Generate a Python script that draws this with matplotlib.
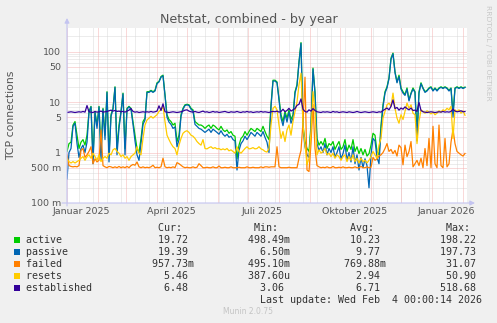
import numpy as np
import pandas as pd
import matplotlib
matplotlib.use('Agg')
import matplotlib.pyplot as plt
from matplotlib.patches import Rectangle

# one sample every second day, starting at the left edge of the window
start = pd.Timestamp('2025-01-01 12:00')
days = np.arange(0, 400, 2)

active = [
    1.05, 1.5, 1.6, 3.5, 4.1, 2.2, 1.2, 1.6, 1.8, 1.4,
    2.2, 6.5, 8.2, 0.8, 6.5, 3.5, 8.2, 1.0, 7.5, 2.2,
    16, 0.9, 5.6, 7.5, 20, 1.2, 3.5, 6.5, 15, 1.2,
    7.5, 8.2, 7.5, 4.1, 2.2, 1.2, 1.0, 1.9, 4.1, 4.8,
    16, 16, 17, 16, 17, 24, 25.5, 32, 34, 14,
    5.6, 4.5, 4.1, 3.5, 3.8, 1.65, 2.2, 5.6, 7.5, 8.8,
    9.0, 8.8, 7.5, 7.0, 4.1, 3.8, 3.5, 3.5, 3.3, 3.0,
    3.3, 3.5, 3.0, 3.5, 3.3, 3.0, 2.8, 3.3, 2.8, 2.6,
    2.8, 2.4, 2.6, 2.2, 2.1, 0.75, 1.4, 1.9, 2.1, 2.6,
    2.2, 2.6, 3.0, 2.8, 2.6, 3.0, 2.8, 2.6, 3.3, 2.6,
    2.1, 1.8, 8.8, 27, 27, 25, 12, 5.6, 4.1, 6.5,
    4.8, 7.0, 4.5, 5.6, 16, 22, 63, 150, 3.5, 1.65,
    1.2, 1.05, 3.5, 47, 16, 1.9, 1.4, 1.65, 1.4, 1.9,
    1.2, 1.5, 1.4, 1.65, 1.15, 1.4, 1.65, 1.15, 1.3, 1.8,
    1.05, 1.4, 1.15, 1.8, 1.05, 1.3, 0.95, 1.2, 0.9, 1.15,
    0.85, 0.95, 1.4, 2.4, 2.2, 1.05, 0.9, 3.5, 8.8, 16,
    20, 30, 74, 93, 40, 25, 34, 19, 16, 14,
    19, 11, 15, 19, 16, 2.5, 16, 24, 19, 16,
    17, 19, 20, 17, 19, 17, 19, 20, 19, 20,
    19, 17, 19, 6.0, 19, 20, 19, 20, 19, 19.72,
]
passive = [
    0.3, 1.0, 1.2, 3.3, 3.8, 1.5, 0.8, 1.2, 1.4, 1.0,
    1.6, 6.2, 8.0, 0.6, 6.2, 3.0, 8.0, 0.7, 7.2, 1.8,
    15.5, 0.65, 5.2, 7.2, 19.5, 0.9, 3.0, 6.2, 14.5, 0.9,
    7.2, 8.0, 7.2, 3.6, 1.7, 0.9, 0.7, 1.5, 3.6, 4.4,
    15.5, 15.5, 16.5, 15.5, 16.5, 23, 25, 31, 33, 13.5,
    5.0, 4.0, 3.6, 3.0, 3.2, 1.3, 1.8, 5.2, 7.2, 8.5,
    8.8, 8.5, 7.2, 6.6, 3.6, 3.3, 3.0, 2.9, 2.7, 2.5,
    2.7, 2.9, 2.5, 2.9, 2.7, 2.5, 2.3, 2.7, 2.3, 2.1,
    2.3, 2.0, 2.1, 1.8, 1.7, 0.45, 1.1, 1.5, 1.7, 2.1,
    1.8, 2.1, 2.5, 2.3, 2.1, 2.5, 2.3, 2.1, 2.6, 2.0,
    1.6, 1.0, 8.0, 26, 26, 24, 11, 4.8, 3.4, 5.8,
    4.0, 6.4, 3.8, 4.8, 15, 21, 60, 145, 3.0, 1.3,
    0.9, 0.8, 3.0, 45, 15, 1.5, 1.1, 1.3, 1.0, 1.5,
    0.9, 1.2, 1.0, 1.3, 0.8, 1.0, 1.3, 0.75, 0.95, 1.4,
    0.7, 1.0, 0.65, 1.3, 0.6, 0.9, 0.45, 0.8, 0.5, 0.75,
    0.55, 0.2, 0.9, 1.9, 1.7, 0.8, 0.6, 2.8, 8.0, 15,
    19, 29, 70, 90, 38, 24, 32, 18, 15, 13.5,
    18, 10.5, 14.5, 18, 15.5, 1.7, 15, 23, 18.5, 15.5,
    16.5, 18.5, 19.5, 16.5, 18.5, 16.5, 18.5, 19.5, 18.5, 19.5,
    18.5, 16.5, 18.5, 5.0, 18.5, 19.5, 18.5, 19.5, 18.5, 19.39,
]
failed = [
    0.9, 0.55, 0.53, 0.52, 0.53, 0.52, 0.55, 1.1, 1.2, 0.8,
    0.9, 1.05, 1.3, 0.6, 0.75, 0.65, 0.7, 2.8, 0.55, 0.52,
    0.5, 0.53, 0.52, 0.5, 0.52, 0.5, 0.53, 0.5, 0.52, 0.5,
    0.53, 0.5, 0.55, 0.58, 0.56, 0.65, 0.52, 0.5, 0.52, 0.5,
    0.51, 0.5, 0.52, 0.56, 0.5, 0.51, 0.5, 0.52, 0.77, 0.52,
    0.5, 0.51, 0.5, 0.52, 0.5, 0.63, 0.6, 0.56, 0.52, 0.5,
    0.51, 0.5, 0.5, 0.52, 0.5, 0.51, 0.6, 0.55, 0.5, 0.5,
    0.51, 0.5, 0.5, 0.52, 0.5, 0.5, 0.54, 0.5, 0.5, 0.51,
    0.5, 0.5, 0.52, 0.5, 0.5, 0.5, 0.51, 0.5, 0.5, 0.5,
    0.52, 0.5, 0.5, 0.51, 0.5, 0.5, 0.5, 0.52, 0.5, 0.52,
    0.52, 0.51, 0.52, 0.52, 0.52, 1.3, 0.52, 0.5, 0.5, 0.5,
    0.5, 0.51, 0.5, 0.5, 0.5, 0.5, 0.77, 1.1, 4.0, 31,
    0.45, 0.42, 1.5, 9.0, 1.2, 0.55, 0.52, 0.5, 0.51, 0.5,
    0.52, 0.5, 0.5, 0.53, 0.5, 0.5, 0.51, 0.5, 0.52, 0.5,
    0.5, 0.51, 0.5, 0.5, 0.52, 0.5, 0.5, 0.53, 0.5, 0.5,
    0.52, 0.5, 0.51, 0.8, 0.7, 0.75, 0.85, 0.9, 1.0, 1.2,
    1.5, 1.05, 1.15, 0.95, 1.1, 0.85, 1.4, 1.25, 0.57, 1.4,
    0.83, 1.05, 1.65, 0.52, 0.6, 0.7, 0.55, 0.77, 0.5, 1.2,
    0.55, 1.9, 0.5, 3.3, 0.6, 0.5, 3.5, 0.55, 0.5, 1.9,
    0.52, 0.6, 1.6, 2.9, 1.5, 1.05, 0.97, 0.9, 0.85, 0.95773,
]
resets = [
    0.75, 0.66, 0.62, 0.66, 0.62, 0.66, 0.7, 0.77, 0.83, 0.7,
    0.83, 0.9, 0.77, 0.97, 0.83, 0.7, 0.9, 0.66, 0.77, 0.83,
    0.77, 0.97, 0.9, 1.13, 1.2, 1.05, 0.97, 0.83, 0.9, 0.77,
    0.83, 0.7, 0.83, 0.9, 0.97, 1.3, 0.97, 0.9, 1.9, 3.5,
    4.4, 4.8, 5.2, 4.8, 5.2, 5.6, 6.5, 7.0, 8.2, 4.1,
    2.2, 1.8, 1.5, 1.3, 1.2, 0.9, 1.4, 1.9, 2.4, 2.6,
    2.7, 2.5, 2.2, 2.1, 1.9, 1.65, 1.5, 1.4, 1.8, 1.2,
    1.18, 1.25, 1.3, 1.2, 1.25, 1.18, 1.2, 1.13, 1.18, 1.13,
    1.2, 1.08, 1.13, 1.05, 0.97, 1.3, 1.05, 0.97, 1.08, 1.2,
    1.3, 1.18, 1.2, 1.25, 1.18, 1.2, 1.3, 1.18, 1.13, 1.05,
    1.02, 1.2, 3.5, 7.5, 8.2, 7.0, 3.5, 1.9, 2.6, 1.65,
    2.8, 3.5, 2.2, 4.1, 6.5, 10, 22, 37, 3.5, 1.4,
    0.57, 0.77, 2.6, 16, 6.5, 0.9, 1.13, 0.97, 1.05, 1.2,
    0.9, 0.97, 0.83, 0.97, 0.77, 0.9, 0.83, 0.7, 0.83, 0.9,
    0.66, 0.83, 0.7, 0.9, 0.66, 0.77, 0.62, 0.77, 0.66, 0.7,
    0.62, 0.7, 0.83, 1.05, 0.9, 0.77, 1.4, 1.9, 4.8, 6.5,
    8.8, 9.5, 8.2, 15, 7.5, 4.8, 3.8, 5.6, 4.5, 6.5,
    9.5, 7.5, 8.8, 6.0, 5.6, 1.5, 4.1, 7.0, 6.5, 6.0,
    6.7, 6.3, 5.8, 6.3, 5.6, 6.0, 6.7, 6.3, 7.0, 6.7,
    7.5, 7.0, 8.2, 1.9, 7.0, 6.5, 7.0, 6.0, 6.7, 5.46,
]
established = [
    6.2, 6.3, 6.4, 6.3, 6.2, 6.3, 6.4, 6.3, 6.5, 6.3,
    8.5, 6.4, 6.3, 6.2, 6.5, 6.3, 6.4, 6.6, 6.3, 6.4,
    6.5, 6.7, 6.9, 6.6, 6.8, 6.5, 6.6, 6.4, 6.5, 6.3,
    6.6, 6.9, 7.4, 6.5, 6.3, 6.4, 6.2, 6.3, 6.4, 6.3,
    6.4, 6.3, 6.5, 6.3, 6.4, 6.6, 8.4, 6.8, 9.2, 6.4,
    6.3, 6.2, 6.3, 6.4, 6.3, 6.2, 6.3, 6.4, 6.6, 6.9,
    7.0, 6.6, 6.4, 6.3, 6.5, 6.3, 6.2, 6.4, 6.6, 6.3,
    6.4, 6.2, 6.3, 6.5, 6.3, 6.4, 6.2, 6.3, 6.4, 6.5,
    6.3, 6.2, 6.4, 6.3, 6.3, 6.5, 6.3, 6.2, 6.4, 6.3,
    6.5, 6.3, 6.4, 6.2, 6.3, 6.4, 6.3, 6.5, 6.3, 6.4,
    6.3, 6.2, 6.4, 6.5, 6.4, 6.6, 6.3, 6.5, 7.2, 6.4,
    6.8, 7.5, 6.6, 7.0, 7.4, 8.6, 9.0, 11.5, 7.2, 6.5,
    6.3, 7.0, 6.6, 7.4, 6.8, 6.4, 6.3, 6.2, 6.4, 6.3,
    6.4, 6.3, 6.2, 6.5, 6.3, 6.4, 6.2, 6.3, 6.4, 6.3,
    6.2, 6.4, 6.3, 6.2, 6.3, 6.5, 6.3, 6.2, 6.3, 6.4,
    6.3, 6.2, 6.3, 6.4, 6.3, 6.2, 6.4, 6.3, 6.8, 7.2,
    7.6, 7.0, 8.2, 11.0, 7.4, 7.8, 6.9, 7.6, 7.2, 8.0,
    7.4, 7.0, 7.6, 6.8, 6.9, 6.5, 9.8, 6.8, 6.4, 6.3,
    6.2, 6.3, 6.4, 6.3, 6.2, 6.3, 6.4, 6.3, 6.5, 6.3,
    6.4, 6.3, 6.5, 7.2, 6.6, 6.4, 6.5, 6.7, 6.4, 6.48,
]

names = ['active', 'passive', 'failed', 'resets', 'established']
colors = ['#00cc00', '#0066b3', '#ff8000', '#ffcc00', '#330099']
cur = ['19.72 ', '19.39 ', '957.73m', '5.46 ', '6.48 ']
vmin = ['498.49m', '6.50m', '495.10m', '387.60u', '3.06 ']
vavg = ['10.23 ', '9.77 ', '769.88m', '2.94 ', '6.71 ']
vmax = ['198.22 ', '197.73 ', '31.07 ', '50.90 ', '518.68 ']

yticks = [0.1, 0.5, 1, 5, 10, 50, 100]
ylabels = ['100 m', '500 m', '1', '5', '10', '50', '100']
xlabels = ['Januar 2025', 'April 2025', 'Juli 2025', 'Oktober 2025', 'Januar 2026']
xlabel_dates = ['2025-01-16', '2025-04-16', '2025-07-16', '2025-10-16', '2026-01-16']

W, H = 497, 323
fig = plt.figure(figsize=(W / 100, H / 100), dpi=100, facecolor='#f0f0f0')
ax = fig.add_axes([67 / W, 1 - 203 / H, 400 / W, 175 / H])
ax.set_facecolor('white')
for s in ax.spines.values():
    s.set_visible(False)

ax.set_yscale('log')
ax.set_ylim(0.1, 292)
ax.set_xlim(start, start + pd.Timedelta(days=400))

# grid: grey minor, light red major, dotted
dots = (0, (1, 1))
grid_minor = dict(color='#dadada', lw=0.72, ls=dots, zorder=1)
grid_major = dict(color='#f4b4b4', lw=0.72, ls=dots, zorder=1.5)
minor_y = [0.2, 0.3, 0.4, 0.6, 0.7, 0.8, 0.9, 2, 3, 4, 6, 7, 8, 9,
           20, 30, 40, 60, 70, 80, 90, 200]
for v in minor_y:
    ax.axhline(v, **grid_minor)
for d in pd.date_range('2024-12-30', '2026-02-10', freq='14D'):
    ax.axvline(d, **grid_minor)
for v in yticks[1:]:
    ax.axhline(v, **grid_major)
for d in pd.date_range('2025-01-01', '2026-02-01', freq='MS'):
    ax.axvline(d, **grid_major)

x = start + pd.to_timedelta(days, unit='D')
for vals, c in zip([active, passive, failed, resets, established], colors):
    ax.plot(x, vals, color=c, lw=0.9, zorder=3)

ax.set_yticks(yticks)
ax.set_yticklabels(ylabels)
ax.yaxis.set_minor_locator(plt.NullLocator())
ax.set_xticks(pd.to_datetime(xlabel_dates))
ax.set_xticklabels(xlabels)
ax.tick_params(length=0, colors='#555555', labelsize=6.8)
ax.tick_params(axis='y', pad=4.3)
ax.tick_params(axis='x', pad=3)

# axis lines with arrow heads
arrow = dict(arrowstyle='-|>', color='#c4c4f0', lw=0.8, mutation_scale=7,
             shrinkA=0, shrinkB=0)
ax.annotate('', xy=(475, H - 203), xytext=(62, H - 203), xycoords='figure pixels',
            textcoords='figure pixels', arrowprops=arrow, annotation_clip=False)
ax.annotate('', xy=(67, H - 18), xytext=(67, H - 206), xycoords='figure pixels',
            textcoords='figure pixels', arrowprops=arrow, annotation_clip=False)

def px(xp, yp):
    return xp / W, 1 - yp / H

fig.text(*px(248.5, 23.3), 'Netstat, combined - by year', ha='center', va='baseline',
         fontsize=9.1, color='#555555')
fig.text(*px(11, 115), 'TCP connections', rotation=90, ha='center', va='center',
         fontsize=7.8, color='#555555')
fig.text(*px(488, 5), 'RRDTOOL / TOBI OETIKER', rotation=270, ha='center', va='top',
         fontsize=5.4, color='#c8c8c8')

# legend table
mono = dict(family='DejaVu Sans Mono', fontsize=7.2, color='#333333', va='baseline', ha='left')
fig.text(*px(26.5, 231), ' ' * 20 + f"{'Cur:  ':>8}{'Min:  ':>16}{'Avg:  ':>16}{'Max:  ':>16}", **mono)
for i, name in enumerate(names):
    yb = 243 + 12 * i
    fig.patches.append(Rectangle(px(14, yb - 0.5), 6 / W, 6 / H, transform=fig.transFigure,
                                 facecolor=colors[i], edgecolor='none'))
    row = f"{name:<20}{cur[i]:>8}{vmin[i]:>16}{vavg[i]:>16}{vmax[i]:>16}"
    fig.text(*px(26.5, yb), row, **mono)
fig.text(*px(26.5, 303), ' ' * 39 + 'Last update: Wed Feb  4 00:00:14 2026', **mono)
fig.text(*px(248, 311.7), 'Munin 2.0.75', ha='center', va='center', fontsize=5.5, color='#c4c4c4')

fig.savefig('out.png', dpi=100, facecolor=fig.get_facecolor())
